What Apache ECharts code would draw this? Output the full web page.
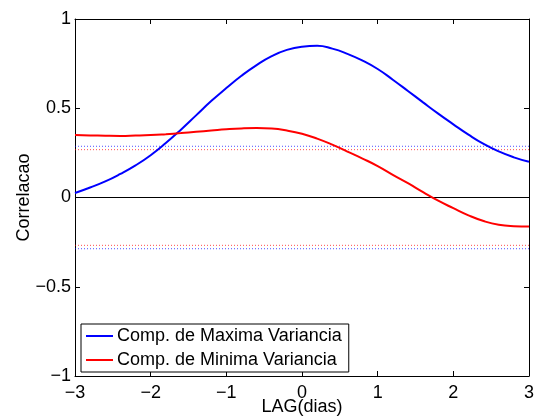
<!DOCTYPE html>
<html>
<head>
<meta charset="utf-8">
<script src="https://cdn.jsdelivr.net/npm/echarts@6/dist/echarts.min.js"></script>
<style>html,body{margin:0;padding:0;background:#fff;}#c{width:534px;height:417px;}</style>
</head>
<body>
<div id="c"></div>
<script>
var lags = [-3, -2.8, -2.6, -2.4, -2.2, -2, -1.8, -1.6, -1.4, -1.2, -1, -0.8, -0.6, -0.4, -0.2, 0, 0.2, 0.4, 0.6, 0.8, 1, 1.2, 1.4, 1.6, 1.8, 2, 2.2, 2.4, 2.6, 2.8, 3];
var maxVar = [0.025, 0.056, 0.09, 0.132, 0.18, 0.237, 0.305, 0.38, 0.46, 0.54, 0.613, 0.682, 0.742, 0.792, 0.827, 0.845, 0.85, 0.834, 0.805, 0.767, 0.72, 0.66, 0.597, 0.533, 0.47, 0.41, 0.352, 0.30, 0.258, 0.225, 0.20];
var minVar = [0.35, 0.348, 0.346, 0.345, 0.347, 0.35, 0.355, 0.361, 0.368, 0.375, 0.382, 0.387, 0.389, 0.386, 0.375, 0.357, 0.33, 0.296, 0.257, 0.218, 0.176, 0.127, 0.08, 0.03, -0.018, -0.06, -0.10, -0.132, -0.153, -0.161, -0.163];
var sigMax = 0.287;   // significance level, max variance component
var sigMin = 0.268;   // significance level, min variance component
var xTicks = [-3, -2, -1, 0, 1, 2, 3];
var yTicks = [-1, -0.5, 0, 0.5, 1];
var names = ['Comp. de Maxima Variancia', 'Comp. de Minima Variancia'];

function pairs(xs, ys){ return xs.map(function(x,i){ return [x, ys[i]]; }); }
function hline(v){ return [[xTicks[0], v],[xTicks[xTicks.length-1], v]]; }
function fmt(v){ return String(v).replace('-', '\u2212'); }

var FONT = 'Liberation Sans';
var FS = 18;
var chart = echarts.init(document.getElementById('c'), null, {renderer:'canvas'});
var axLine = {show:true, onZero:false, lineStyle:{color:'#000', width:1}};
var tickIn = {show:true, inside:true, length:5, lineStyle:{color:'#000', width:1}};
var option = {
  backgroundColor:'#fff',
  animation:false,
  textStyle:{fontFamily:FONT},
  grid:{left:75, right:5, top:19, bottom:41, containLabel:false, outerBoundsMode:'none'},
  xAxis:[{
    type:'value', min:xTicks[0], max:xTicks[xTicks.length-1], interval:1, position:'bottom',
    axisLine:axLine, axisTick:tickIn, splitLine:{show:false},
    axisLabel:{color:'#000', fontSize:FS, fontFamily:FONT, margin:8, formatter:fmt},
    name:'LAG(dias)', nameLocation:'middle', nameGap:22, nameMoveOverlap:false,
    nameTextStyle:{color:'#000', fontSize:FS, fontFamily:FONT}
  },{
    type:'value', min:xTicks[0], max:xTicks[xTicks.length-1], interval:1, position:'top',
    axisLine:axLine, axisTick:tickIn, axisLabel:{show:false}, splitLine:{show:false}
  }],
  yAxis:[{
    type:'value', min:yTicks[0], max:yTicks[yTicks.length-1], interval:0.5, position:'left',
    axisLine:axLine, axisTick:tickIn, splitLine:{show:false},
    axisLabel:{color:'#000', fontSize:FS, fontFamily:FONT, margin:4, formatter:fmt},
    name:'Correlacao', nameLocation:'middle', nameGap:42, nameMoveOverlap:false,
    nameTextStyle:{color:'#000', fontSize:FS, fontFamily:FONT}
  },{
    type:'value', min:yTicks[0], max:yTicks[yTicks.length-1], interval:0.5, position:'right',
    axisLine:axLine, axisTick:tickIn, axisLabel:{show:false}, splitLine:{show:false}
  }],
  legend:{
    data:names, orient:'vertical', left:81, top:324,
    backgroundColor:'#fff', borderColor:'#000', borderWidth:1,
    padding:[3,7,3,5], itemGap:6, itemWidth:27, itemHeight:2, icon:'rect',
    textStyle:{color:'#000', fontSize:FS, fontFamily:FONT, padding:[0,0,0,-1]}
  },
  series:[
    {name:'zero', type:'line', data:hline(0), symbol:'none', silent:true,
     lineStyle:{color:'#000', width:1}, z:1},
    {name:'sigMaxP', type:'line', data:hline(sigMax), symbol:'none', silent:true,
     lineStyle:{color:'rgba(0,0,255,0.7)', width:1, type:[1,2]}, z:1},
    {name:'sigMaxN', type:'line', data:hline(-sigMax), symbol:'none', silent:true,
     lineStyle:{color:'rgba(0,0,255,0.7)', width:1, type:[1,2]}, z:1},
    {name:'sigMinP', type:'line', data:hline(sigMin), symbol:'none', silent:true,
     lineStyle:{color:'rgba(255,0,0,0.7)', width:1, type:[1,2]}, z:1},
    {name:'sigMinN', type:'line', data:hline(-sigMin), symbol:'none', silent:true,
     lineStyle:{color:'rgba(255,0,0,0.7)', width:1, type:[1,2]}, z:1},
    {name:names[0], type:'line', data:pairs(lags, maxVar), symbol:'none', smooth:0.5,
     color:'#0000ff', lineStyle:{color:'#0000ff', width:2}, z:3},
    {name:names[1], type:'line', data:pairs(lags, minVar), symbol:'none', smooth:0.5,
     color:'#ff0000', lineStyle:{color:'#ff0000', width:2}, z:3}
  ]
};
chart.setOption(option);
</script>
</body>
</html>
